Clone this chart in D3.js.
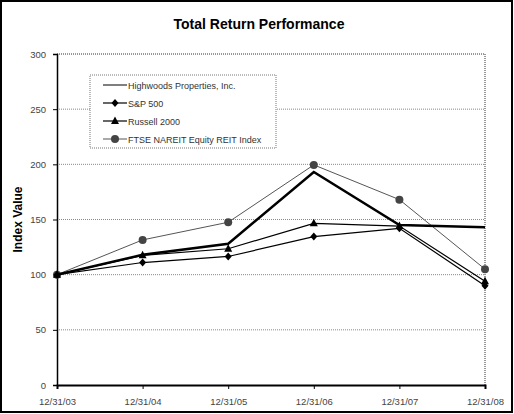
<!DOCTYPE html>
<html lang="en">
<head>
    <meta charset="UTF-8">
    <title>Total Return Performance</title>
    <script src="https://d3js.org/d3.v7.min.js"></script>
    <style>
        body { margin: 0; background: #ffffff; font-family: Arial, "Liberation Sans", sans-serif; }
        svg { display: block; }
        .tick-label { font-size: 9.5px; fill: #444; }
        .legend-text { font-size: 9px; fill: #333; }
    </style>
</head>
<body>
<svg width="514" height="414"></svg>
<script>
    // data
    const dates = ["12/31/03", "12/31/04", "12/31/05", "12/31/06", "12/31/07", "12/31/08"];
    const highwoods = [100, 118, 128, 193, 145, 143];
    const sp500 = [100, 111, 116.5, 134.5, 142, 90];
    const russell = [100, 117.5, 123.5, 146.5, 144, 94];
    const nareit = [100, 131.5, 147.5, 199.5, 168, 105];
    const yTicks = [0, 50, 100, 150, 200, 250, 300];

    const series = [
        { name: "Highwoods Properties, Inc.", values: highwoods, color: "#000", width: 2.5, legendWidth: 1, marker: null },
        { name: "S&P 500", values: sp500, color: "#000", width: 1.2, legendWidth: 1.2, marker: "diamond" },
        { name: "Russell 2000", values: russell, color: "#000", width: 1.2, legendWidth: 1.2, marker: "triangle" },
        { name: "FTSE NAREIT Equity REIT Index", values: nareit, color: "#555", width: 1, legendWidth: 1, marker: "circle" }
    ];

    const svg = d3.select("svg");
    const margin = { left: 57, right: 29, top: 54, bottom: 29 };
    const W = 514, H = 414;

    // outer frame
    svg.append("rect")
        .attr("x", 1).attr("y", 1)
        .attr("width", W - 3).attr("height", H - 3)
        .attr("fill", "#fff")
        .attr("stroke", "#000")
        .attr("stroke-width", 2);

    const x = d3.scalePoint().domain(dates).range([margin.left, W - margin.right]);
    const y = d3.scaleLinear().domain([0, 300]).range([H - margin.bottom, margin.top]);

    // title
    svg.append("text")
        .attr("x", 259).attr("y", 29)
        .attr("text-anchor", "middle")
        .style("font-size", "14px")
        .style("font-weight", "bold")
        .text("Total Return Performance");

    // y label
    svg.append("text")
        .attr("transform", `translate(22, ${y(150)}) rotate(-90)`)
        .attr("text-anchor", "middle")
        .style("font-size", "12px")
        .style("font-weight", "bold")
        .text("Index Value");

    // grid lines
    svg.append("g")
        .selectAll("line")
        .data(yTicks.filter(d => d > 0))
        .join("line")
        .attr("x1", margin.left).attr("x2", W - margin.right)
        .attr("y1", d => y(d)).attr("y2", d => y(d))
        .attr("stroke", d => d === 300 ? "#333" : "#888")
        .attr("stroke-width", 1)
        .attr("stroke-dasharray", "1,1");

    // right frame of plot area
    svg.append("line")
        .attr("x1", W - margin.right).attr("x2", W - margin.right)
        .attr("y1", y(300)).attr("y2", y(0))
        .attr("stroke", "#333")
        .attr("stroke-dasharray", "1,1");

    // y axis
    const yAxis = d3.axisLeft(y).tickValues(yTicks).tickSize(4).tickPadding(7);
    const gy = svg.append("g").attr("transform", `translate(${margin.left},0)`).call(yAxis);
    gy.select(".domain").attr("stroke", "#000").attr("stroke-width", 1.5);
    gy.selectAll(".tick line").attr("stroke", "#000");
    gy.selectAll(".tick text").attr("class", "tick-label").style("font-family", "Arial, sans-serif");

    // x axis
    const xAxis = d3.axisBottom(x).tickSize(4).tickPadding(9);
    const gx = svg.append("g").attr("transform", `translate(0,${y(0)})`).call(xAxis);
    gx.select(".domain").attr("stroke", "#000").attr("stroke-width", 2);
    gx.selectAll(".tick line").attr("stroke", "#000");
    gx.selectAll(".tick text").attr("class", "tick-label").style("font-family", "Arial, sans-serif");

    const line = d3.line().x((d, i) => x(dates[i])).y(d => y(d));

    function drawMarker(g, type, cx, cy, color) {
        if (type === "circle") {
            g.append("circle").attr("cx", cx).attr("cy", cy).attr("r", 4).attr("fill", "#444");
        } else if (type === "diamond") {
            g.append("path")
                .attr("d", `M${cx},${cy - 4}L${cx + 3.5},${cy}L${cx},${cy + 4}L${cx - 3.5},${cy}Z`)
                .attr("fill", color);
        } else if (type === "triangle") {
            g.append("path")
                .attr("d", `M${cx},${cy - 4.5}L${cx + 4},${cy + 3}L${cx - 4},${cy + 3}Z`)
                .attr("fill", color);
        }
    }

    // draw back to front so the thick line sits above the rest
    const drawOrder = [3, 2, 1, 0];
    drawOrder.forEach(k => {
        const s = series[k];
        const g = svg.append("g");
        g.append("path")
            .datum(s.values)
            .attr("d", line)
            .attr("fill", "none")
            .attr("stroke", s.color)
            .attr("stroke-width", s.width)
            .attr("stroke-linejoin", "miter");
        if (s.marker) {
            s.values.forEach((v, i) => drawMarker(g, s.marker, x(dates[i]), y(v), s.color));
        }
    });

    // legend
    const legend = svg.append("g").attr("transform", "translate(90,75)");
    legend.append("rect")
        .attr("width", 186).attr("height", 73)
        .attr("fill", "#fff")
        .attr("stroke", "#777")
        .attr("stroke-dasharray", "1,1");

    series.forEach((s, i) => {
        const ly = 10 + i * 18;
        legend.append("line")
            .attr("x1", 13).attr("x2", 37)
            .attr("y1", ly).attr("y2", ly)
            .attr("stroke", s.color)
            .attr("stroke-width", s.legendWidth);
        if (s.marker) drawMarker(legend, s.marker, 25, ly, s.color);
        legend.append("text")
            .attr("class", "legend-text")
            .attr("x", 38).attr("y", ly + 3.5)
            .text(s.name);
    });
</script>
</body>
</html>
